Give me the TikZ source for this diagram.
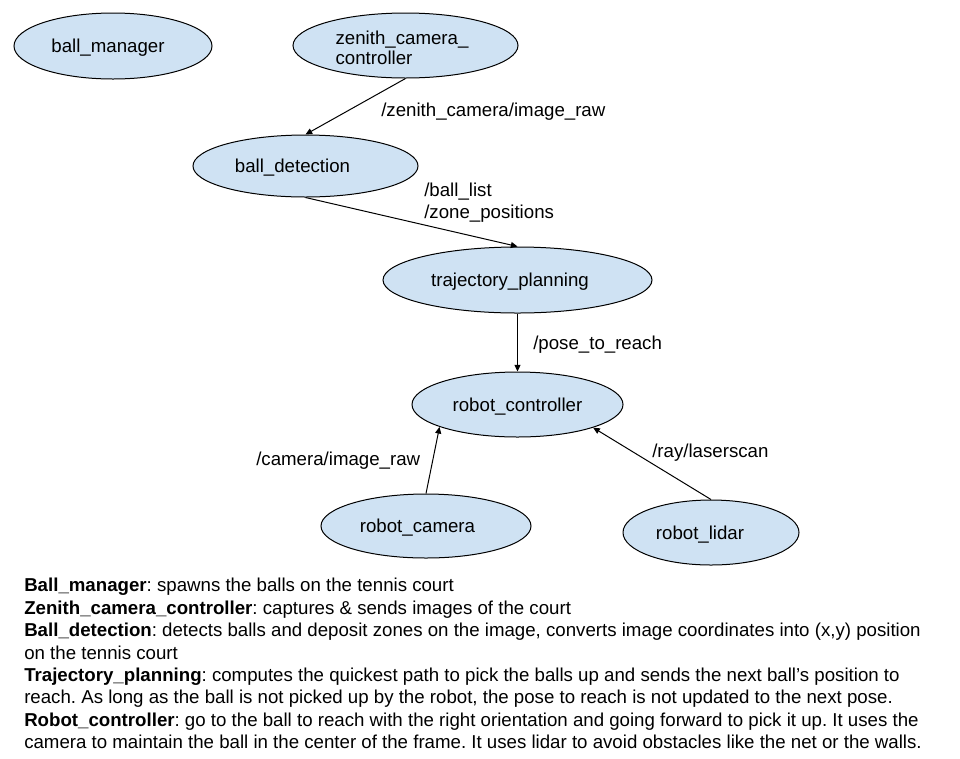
\documentclass[tikz,border=0pt]{standalone}
\usepackage{fontspec}
\setmainfont{Liberation Sans}
\usetikzlibrary{shapes.geometric,arrows.meta}
\definecolor{nodeblue}{HTML}{CFE2F3}
\newcommand{\fs}{\fontsize{14pt}{16.8pt}\selectfont\frenchspacing}
\newcommand{\fstight}{\fontsize{14pt}{15pt}\selectfont\frenchspacing}
\tikzset{
  ell/.style={ellipse, draw=black, line width=0.75pt, fill=nodeblue, inner sep=0pt},
  txt/.style={font=\fs, text=black, inner sep=0pt, yshift=-1.5pt},
  lbl/.style={font=\fs, text=black, inner sep=0pt, anchor=west, align=left, yshift=-1.5pt},
  arr/.style={-{Triangle[length=5pt,width=4.5pt]}, line width=0.75pt, draw=black},
}
\begin{document}
\begin{tikzpicture}[x=0.75pt,y=-0.75pt]
\useasboundingbox[fill=white] (0,0) rectangle (960,758);

\node[ell, minimum width=148.5pt, minimum height=49.5pt,
  label={[txt,xshift=-3.75pt]center:ball\_manager}] (bm) at (113,46) {};
\node[ell, minimum width=168.75pt, minimum height=48.75pt,
  label={[txt,font=\fstight,align=left,xshift=-2.6pt,yshift=-0.5pt]center:{zenith\_camera\_\\controller}}] (zen) at (405.5,45.5) {};
\node[ell, minimum width=168.75pt, minimum height=46.5pt,
  label={[txt,xshift=-9.75pt]center:ball\_detection}] (bd) at (305.5,166) {};
\node[ell, minimum width=201.75pt, minimum height=49.5pt,
  label={[txt,xshift=-5.6pt]center:trajectory\_planning}] (tp) at (517.5,280) {};
\node[ell, minimum width=158.25pt, minimum height=48.75pt,
  label={[txt]center:robot\_controller}] (rc) at (517.5,404.5) {};
\node[ell, minimum width=157.5pt, minimum height=48pt,
  label={[txt,xshift=-6.4pt]center:robot\_camera}] (cam) at (426,526) {};
\node[ell, minimum width=132pt, minimum height=48.75pt,
  label={[txt,xshift=-8.25pt]center:robot\_lidar}] (lid) at (711,532.5) {};

\draw[arr] (zen.south) -- (bd.north);
\draw[arr] (bd.south) -- (tp.north);
\draw[arr] (tp.south) -- (rc.north);
\draw[arr] (cam.north) -- (rc.196.6);
\draw[arr] (lid.north) -- (rc.343.8);

\node[lbl] (l1) at (381,110) {/zenith\_camera/image\_raw};
\node[lbl] (l2) at (424,200.5) {/ball\_list\\/zone\_positions};
\node[lbl] (l3) at (533,343) {/pose\_to\_reach};
\node[lbl] (l4) at (256,459) {/camera/image\_raw};
\node[lbl] (l5) at (652,451) {/ray/laserscan};

\node[txt, align=left, anchor=north west] (desc) at (24,576) {%
\textbf{Ball\_manager}: spawns the balls on the tennis court\\
\textbf{Zenith\_camera\_controller}: captures \& sends images of the court\\
\textbf{Ball\_detection}: detects balls and deposit zones on the image, converts image coordinates into (x,y) position\\
on the tennis court\\
\textbf{Trajectory\_planning}: computes the quickest path to pick the balls up and sends the next ball’s position to\\
reach. As long as the ball is not picked up by the robot, the pose to reach is not updated to the next pose.\\
\textbf{Robot\_controller}: go to the ball to reach with the right orientation and going forward to pick it up. It uses the\\
camera to maintain the ball in the center of the frame. It uses lidar to avoid obstacles like the net or the walls.};
\end{tikzpicture}
\end{document}
